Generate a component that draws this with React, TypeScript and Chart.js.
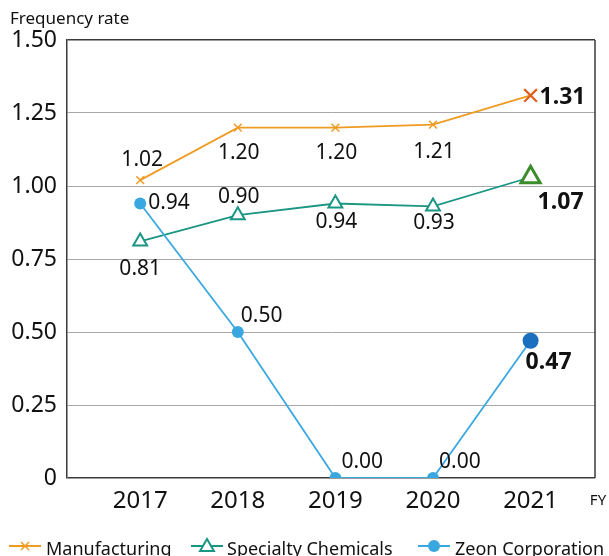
import React, { useEffect, useRef } from "react";
import { Chart, registerables } from "chart.js";

Chart.register(...registerables);

const categories = ["2017", "2018", "2019", "2020", "2021"];
const seriesNames = ["Manufacturing", "Specialty Chemicals", "Zeon Corporation"];
const manufacturing = [1.02, 1.2, 1.2, 1.21, 1.31];
const specialty = [0.81, 0.9, 0.94, 0.93, 1.03];
const zeon = [0.94, 0.5, 0.0, 0.0, 0.47];
const manufacturingLabels = ["1.02", "1.20", "1.20", "1.21", "1.31"];
const specialtyLabels = ["0.81", "0.90", "0.94", "0.93", "1.07"];
const zeonLabels = ["0.94", "0.50", "0.00", "0.00", "0.47"];
const yAxisTitle = "Frequency rate";
const xAxisUnit = "FY";

const FONT = "'Noto Sans', 'Open Sans', sans-serif";
const ORANGE = "#EE9B22";
const ORANGE_HI = "#E0611E";
const TEAL = "#1A9682";
const GREEN_HI = "#3B8C2A";
const BLUE = "#3AA8E0";
const BLUE_HI = "#1C6EBE";
const FRAME = "#3a3a3a";
const GRID = "#a8a8a8";

// label placement style: [dx, dy, align, bold]
const labelStyle: [number, number, CanvasTextAlign, boolean][][] = [
  [[2, -20, "center", false], [1, 25, "center", false], [1, 25, "center", false], [1, 27, "center", false], [9, 2, "left", true]],
  [[0, 28, "center", false], [1, -18, "center", false], [1, 18, "center", false], [1, 17, "center", false], [30, 25, "center", true]],
  [[8, -1, "left", false], [3, -16, "left", false], [6, -16, "left", false], [6, -16, "left", false], [18, 22, "center", true]],
];
const allLabels = [manufacturingLabels, specialtyLabels, zeonLabels];

function drawMarker(ctx: CanvasRenderingContext2D, kind: number, x: number, y: number) {
  ctx.save();
  if (kind === 0) {
    ctx.strokeStyle = ORANGE;
    ctx.lineWidth = 1.5;
    const r = 4;
    ctx.beginPath();
    ctx.moveTo(x - r, y - r);
    ctx.lineTo(x + r, y + r);
    ctx.moveTo(x + r, y - r);
    ctx.lineTo(x - r, y + r);
    ctx.stroke();
  } else if (kind === 1) {
    ctx.strokeStyle = TEAL;
    ctx.fillStyle = "#fff";
    ctx.lineWidth = 2;
    const r = 8;
    ctx.beginPath();
    for (let k = 0; k < 3; k++) {
      const a = (k * 2 * Math.PI) / 3;
      const px = x + Math.sin(a) * r;
      const py = y + 1 - Math.cos(a) * r;
      if (k === 0) ctx.moveTo(px, py);
      else ctx.lineTo(px, py);
    }
    ctx.closePath();
    ctx.fill();
    ctx.stroke();
  } else {
    ctx.fillStyle = BLUE;
    ctx.beginPath();
    ctx.arc(x, y, 6, 0, Math.PI * 2);
    ctx.fill();
  }
  ctx.restore();
}

const decorPlugin = {
  id: "decor",
  afterDraw(chart: any) {
    const ctx: CanvasRenderingContext2D = chart.ctx;
    const area = chart.chartArea;
    ctx.save();
    // right frame
    ctx.strokeStyle = FRAME;
    ctx.lineWidth = 1.5;
    ctx.beginPath();
    ctx.moveTo(area.right, area.top);
    ctx.lineTo(area.right, area.bottom);
    ctx.stroke();

    // y title
    ctx.fillStyle = "#111";
    ctx.font = `17px ${FONT}`;
    ctx.textAlign = "left";
    ctx.textBaseline = "middle";
    ctx.fillText(yAxisTitle, 10, 19);

    // FY
    ctx.font = `15px ${FONT}`;
    ctx.textAlign = "center";
    ctx.fillText(xAxisUnit, 598, 501);

    // data labels
    chart.data.datasets.forEach((ds: any, di: number) => {
      const meta = chart.getDatasetMeta(di);
      meta.data.forEach((pt: any, i: number) => {
        const [dx, dy, align, bold] = labelStyle[di][i];
        ctx.font = bold ? `bold 23px ${FONT}` : `21px ${FONT}`;
        ctx.textAlign = align;
        ctx.textBaseline = "middle";
        ctx.fillStyle = "#111";
        ctx.fillText(allLabels[di][i], pt.x + dx, pt.y + dy);
      });
    });

    // legend
    const items = [
      { lx: 9, tx: 46, color: ORANGE },
      { lx: 191, tx: 227, color: TEAL },
      { lx: 418, tx: 455, color: BLUE },
    ];
    const ly = 546;
    items.forEach((it, k) => {
      ctx.strokeStyle = it.color;
      ctx.lineWidth = 2;
      ctx.beginPath();
      ctx.moveTo(it.lx, ly);
      ctx.lineTo(it.lx + 32, ly);
      ctx.stroke();
      drawMarker(ctx, k, it.lx + 16, ly);
      ctx.fillStyle = "#111";
      ctx.font = `18px ${FONT}`;
      ctx.textAlign = "left";
      ctx.textBaseline = "alphabetic";
      ctx.fillText(seriesNames[k], it.tx, 555);
    });
    ctx.restore();
  },
};

export default function App() {
  const ref = useRef<HTMLCanvasElement | null>(null);
  useEffect(() => {
    if (!ref.current) return;
    const toPts = (arr: number[]) => arr.map((y, i) => ({ x: i, y }));
    const chart = new Chart(ref.current, {
      type: "line",
      data: {
        datasets: [
          {
            label: seriesNames[0],
            data: toPts(manufacturing),
            borderColor: ORANGE,
            borderWidth: 1.8,
            pointStyle: "crossRot",
            pointRadius: [5.5, 5.5, 5.5, 5.5, 9],
            pointBorderColor: [ORANGE, ORANGE, ORANGE, ORANGE, ORANGE_HI],
            pointBorderWidth: [1.5, 1.5, 1.5, 1.5, 2.2],
            pointBackgroundColor: ORANGE,
            order: 2,
          },
          {
            label: seriesNames[1],
            data: toPts(specialty),
            borderColor: TEAL,
            borderWidth: 1.8,
            pointStyle: "triangle",
            pointRadius: [8, 8, 8, 8, 11],
            pointBackgroundColor: "#ffffff",
            pointBorderColor: [TEAL, TEAL, TEAL, TEAL, GREEN_HI],
            pointBorderWidth: [2, 2, 2, 2, 3],
            order: 1,
          },
          {
            label: seriesNames[2],
            data: toPts(zeon),
            borderColor: BLUE,
            borderWidth: 1.8,
            pointStyle: "circle",
            pointRadius: [6, 6, 6, 6, 8],
            pointBackgroundColor: [BLUE, BLUE, BLUE, BLUE, BLUE_HI],
            pointBorderColor: [BLUE, BLUE, BLUE, BLUE, BLUE_HI],
            pointBorderWidth: 0,
            order: 0,
          },
        ],
      },
      options: {
        animation: false,
        responsive: false,
        events: [],
        layout: { padding: { top: 40, right: 1, left: 0, bottom: 0 } },
        plugins: {
          legend: { display: false },
          tooltip: { enabled: false },
          title: { display: false },
        },
        scales: {
          x: {
            type: "linear",
            bounds: "data",
            min: -0.75,
            max: 4.66,
            afterBuildTicks: (scale: any) => {
              scale.ticks = categories.map((_, i) => ({ value: i }));
            },
            afterFit: (scale: any) => {
              scale.height = 78;
            },
            grid: { display: false, drawTicks: false },
            border: { display: false },
            ticks: {
              autoSkip: false,
              maxRotation: 0,
              padding: 9,
              color: "#111",
              font: { family: FONT, size: 24 },
              callback: (v: any) => categories[v as number] ?? "",
            },
          },
          y: {
            min: 0,
            max: 1.5,
            afterFit: (scale: any) => {
              scale.width = 67;
            },
            grid: {
              drawTicks: false,
              color: (c: any) =>
                c.tick && (c.tick.value === 0 || c.tick.value === 1.5) ? FRAME : GRID,
              lineWidth: (c: any) =>
                c.tick && (c.tick.value === 0 || c.tick.value === 1.5) ? 1.5 : 1,
            },
            border: { display: true, color: FRAME, width: 1.5 },
            ticks: {
              stepSize: 0.25,
              padding: 10,
              color: "#111",
              font: { family: FONT, size: 23 },
              callback: (v: any) => (Number(v) === 0 ? "0" : Number(v).toFixed(2)),
            },
          },
        },
      },
      plugins: [decorPlugin],
    } as any);
    return () => chart.destroy();
  }, []);
  return (
    <div style={{ position: "absolute", left: 0, top: 0, width: 609, height: 556 }}>
      <canvas ref={ref} width={609} height={556} style={{ width: 609, height: 556 }} />
    </div>
  );
}
